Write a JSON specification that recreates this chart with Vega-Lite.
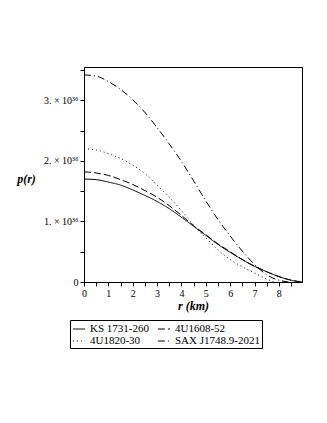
{
  "$schema": "https://vega.github.io/schema/vega-lite/v6.json",
  "width": 218,
  "height": 215,
  "autosize": "none",
  "padding": {"left": 84, "top": 67, "right": 25, "bottom": 141},
  "background": "white",
  "config": {
    "view": {"stroke": "black", "strokeWidth": 1},
    "font": "Liberation Serif",
    "axis": {"grid": false, "domainColor": "black", "tickColor": "black", "labelColor": "black", "titleColor": "black", "labelFont": "Liberation Serif", "titleFont": "Liberation Serif", "labelFontSize": 10, "tickSize": 4}
  },
  "data": {
    "values": [
      {"star": "KS 1731-260", "r": 0, "p": 1.70e36},
      {"star": "KS 1731-260", "r": 0.5, "p": 1.69e36},
      {"star": "KS 1731-260", "r": 1, "p": 1.65e36},
      {"star": "KS 1731-260", "r": 1.5, "p": 1.60e36},
      {"star": "KS 1731-260", "r": 2, "p": 1.52e36},
      {"star": "KS 1731-260", "r": 2.5, "p": 1.43e36},
      {"star": "KS 1731-260", "r": 3, "p": 1.33e36},
      {"star": "KS 1731-260", "r": 3.5, "p": 1.21e36},
      {"star": "KS 1731-260", "r": 4, "p": 1.07e36},
      {"star": "KS 1731-260", "r": 4.5, "p": 0.92e36},
      {"star": "KS 1731-260", "r": 5, "p": 0.77e36},
      {"star": "KS 1731-260", "r": 5.5, "p": 0.62e36},
      {"star": "KS 1731-260", "r": 6, "p": 0.49e36},
      {"star": "KS 1731-260", "r": 6.5, "p": 0.37e36},
      {"star": "KS 1731-260", "r": 7, "p": 0.26e36},
      {"star": "KS 1731-260", "r": 7.5, "p": 0.17e36},
      {"star": "KS 1731-260", "r": 8, "p": 0.09e36},
      {"star": "KS 1731-260", "r": 8.5, "p": 0.03e36},
      {"star": "KS 1731-260", "r": 8.95, "p": 0},
      {"star": "4U1608-52", "r": 0, "p": 1.82e36},
      {"star": "4U1608-52", "r": 0.5, "p": 1.80e36},
      {"star": "4U1608-52", "r": 1, "p": 1.76e36},
      {"star": "4U1608-52", "r": 1.5, "p": 1.69e36},
      {"star": "4U1608-52", "r": 2, "p": 1.61e36},
      {"star": "4U1608-52", "r": 2.5, "p": 1.51e36},
      {"star": "4U1608-52", "r": 3, "p": 1.40e36},
      {"star": "4U1608-52", "r": 3.5, "p": 1.26e36},
      {"star": "4U1608-52", "r": 4, "p": 1.10e36},
      {"star": "4U1608-52", "r": 4.5, "p": 0.93e36},
      {"star": "4U1608-52", "r": 5, "p": 0.78e36},
      {"star": "4U1608-52", "r": 5.5, "p": 0.63e36},
      {"star": "4U1608-52", "r": 6, "p": 0.50e36},
      {"star": "4U1608-52", "r": 6.5, "p": 0.37e36},
      {"star": "4U1608-52", "r": 7, "p": 0.26e36},
      {"star": "4U1608-52", "r": 7.5, "p": 0.17e36},
      {"star": "4U1608-52", "r": 8, "p": 0.09e36},
      {"star": "4U1608-52", "r": 8.5, "p": 0.03e36},
      {"star": "4U1608-52", "r": 8.9, "p": 0},
      {"star": "4U1820-30", "r": 0, "p": 2.20e36},
      {"star": "4U1820-30", "r": 0.5, "p": 2.18e36},
      {"star": "4U1820-30", "r": 1, "p": 2.12e36},
      {"star": "4U1820-30", "r": 1.5, "p": 2.04e36},
      {"star": "4U1820-30", "r": 2, "p": 1.93e36},
      {"star": "4U1820-30", "r": 2.5, "p": 1.79e36},
      {"star": "4U1820-30", "r": 3, "p": 1.60e36},
      {"star": "4U1820-30", "r": 3.5, "p": 1.40e36},
      {"star": "4U1820-30", "r": 4, "p": 1.18e36},
      {"star": "4U1820-30", "r": 4.5, "p": 0.94e36},
      {"star": "4U1820-30", "r": 5, "p": 0.73e36},
      {"star": "4U1820-30", "r": 5.5, "p": 0.53e36},
      {"star": "4U1820-30", "r": 6, "p": 0.37e36},
      {"star": "4U1820-30", "r": 6.5, "p": 0.25e36},
      {"star": "4U1820-30", "r": 7, "p": 0.15e36},
      {"star": "4U1820-30", "r": 7.5, "p": 0.05e36},
      {"star": "4U1820-30", "r": 7.8, "p": 0},
      {"star": "SAX J1748.9-2021", "r": 0, "p": 3.42e36},
      {"star": "SAX J1748.9-2021", "r": 0.5, "p": 3.40e36},
      {"star": "SAX J1748.9-2021", "r": 1, "p": 3.31e36},
      {"star": "SAX J1748.9-2021", "r": 1.5, "p": 3.18e36},
      {"star": "SAX J1748.9-2021", "r": 2, "p": 3.01e36},
      {"star": "SAX J1748.9-2021", "r": 2.5, "p": 2.80e36},
      {"star": "SAX J1748.9-2021", "r": 3, "p": 2.55e36},
      {"star": "SAX J1748.9-2021", "r": 3.5, "p": 2.28e36},
      {"star": "SAX J1748.9-2021", "r": 4, "p": 1.99e36},
      {"star": "SAX J1748.9-2021", "r": 4.5, "p": 1.67e36},
      {"star": "SAX J1748.9-2021", "r": 5, "p": 1.34e36},
      {"star": "SAX J1748.9-2021", "r": 5.5, "p": 1.03e36},
      {"star": "SAX J1748.9-2021", "r": 6, "p": 0.76e36},
      {"star": "SAX J1748.9-2021", "r": 6.5, "p": 0.51e36},
      {"star": "SAX J1748.9-2021", "r": 7, "p": 0.29e36},
      {"star": "SAX J1748.9-2021", "r": 7.5, "p": 0.12e36},
      {"star": "SAX J1748.9-2021", "r": 8, "p": 0.03e36},
      {"star": "SAX J1748.9-2021", "r": 8.4, "p": 0}
    ]
  },
  "mark": {"type": "line", "color": "black", "strokeWidth": 1, "interpolate": "monotone", "clip": true},
  "encoding": {
    "x": {
      "field": "r", "type": "quantitative",
      "scale": {"domain": [0, 8.95], "nice": false, "zero": false},
      "axis": {
        "values": [0, 0.5, 1, 1.5, 2, 2.5, 3, 3.5, 4, 4.5, 5, 5.5, 6, 6.5, 7, 7.5, 8, 8.5],
        "labelExpr": "datum.value % 1 == 0 ? datum.value : ''",
        "labelFlush": false, "labelOverlap": false, "labelFont": "Liberation Serif",
        "title": "r (km)", "titleFont": "Liberation Serif", "titleFontStyle": "italic", "titleFontWeight": "bold", "titleFontSize": 12, "titlePadding": 2
      }
    },
    "y": {
      "field": "p", "type": "quantitative",
      "scale": {"domain": [0, 3.55e36], "nice": false},
      "axis": {
        "values": [0, 5e35, 1e36, 1.5e36, 2e36, 2.5e36, 3e36, 3.5e36],
        "labelExpr": "datum.value == 0 ? '0' : (round(datum.value / 5e35) % 2 == 0 ? round(datum.value / 1e36) + '. × 10³⁶' : '')",
        "labelOverlap": false, "labelFlush": false, "labelFont": "Liberation Serif",
        "title": "p(r)", "titleFont": "Liberation Serif", "titleAngle": 0, "titleFontStyle": "italic", "titleFontWeight": "bold", "titleFontSize": 12,
        "titleX": -58, "titleY": 111, "titleAlign": "center", "titleBaseline": "middle"
      }
    },
    "strokeDash": {
      "field": "star", "type": "nominal",
      "scale": {
        "domain": ["KS 1731-260", "4U1608-52", "4U1820-30", "SAX J1748.9-2021"],
        "range": [[1, 0], [7, 3], [1, 3], [7, 3, 1, 3]]
      },
      "legend": {
        "title": null, "orient": "none", "legendX": -14, "legendY": 253,
        "direction": "horizontal", "columns": 2, "columnPadding": 6, "rowPadding": 0,
        "symbolType": "stroke", "symbolSize": 150, "symbolStrokeColor": "black", "symbolStrokeWidth": 1,
        "labelFont": "Liberation Serif", "labelFontSize": 11, "labelColor": "black", "labelOffset": 4,
        "strokeColor": "black", "padding": 2, "cornerRadius": 0
      }
    }
  }
}
